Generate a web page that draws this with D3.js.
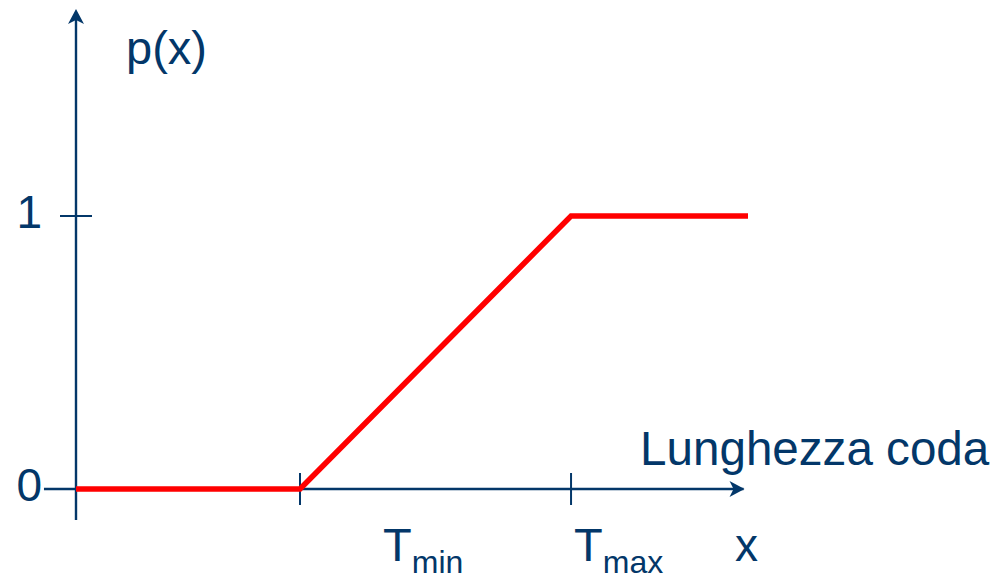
<!DOCTYPE html>
<html><head><meta charset="utf-8">
<script src="https://cdn.jsdelivr.net/npm/d3@7"></script>
<style>body{margin:0;background:#fff}svg{display:block}</style>
</head><body>
<script>
// Data
const xPoints = [0, 1, 2.21, 3];      // origin, Tmin, Tmax, end
const yValues = [0, 0, 1, 1];         // p(x)
const yTicks = [0, 1];
const yTickLabels = ["0", "1"];
const xTicks = [1, 2.21];
const xTickMain = ["T", "T"];
const xTickSub = ["min", "max"];

// layout
const xLabelShift = [83, 3];
const W = 1004, H = 573;
const navy = "#033769";
const font = "'Liberation Sans', Arial, sans-serif";

const svg = d3.select("body").append("svg").attr("width", W).attr("height", H);
const x = d3.scaleLinear().domain([0, 3]).range([76, 748]);
const y = d3.scaleLinear().domain([0, 1]).range([489, 216]);

// axes lines
svg.append("line").attr("x1", x(0)).attr("x2", x(0)).attr("y1", y(-0.114)).attr("y2", y(1.74))
  .attr("stroke", navy).attr("stroke-width", 2.4);
svg.append("line").attr("x1", x(-0.143)).attr("x2", x(2.98)).attr("y1", y(0)).attr("y2", y(0))
  .attr("stroke", navy).attr("stroke-width", 2.4);

// arrowheads
function arrow(tx, ty, angle) {
  svg.append("path")
    .attr("d", "M0,0 L-15,-8 L-11,0 L-15,8 Z")
    .attr("transform", `translate(${tx},${ty}) rotate(${angle})`)
    .attr("fill", navy);
}
arrow(x(2.98) + 1, y(0), 0);
arrow(x(0), y(1.758), -90);

// y ticks (cross the axis)
svg.selectAll(".ytick").data(yTicks.filter(d => d > 0)).enter().append("line")
  .attr("x1", x(0) - 16).attr("x2", x(0) + 16)
  .attr("y1", d => y(d)).attr("y2", d => y(d))
  .attr("stroke", navy).attr("stroke-width", 2);
svg.selectAll(".ylab").data(yTicks).enter().append("text")
  .attr("x", 42).attr("y", d => y(d) + 12)
  .attr("text-anchor", "end").attr("font-family", font).attr("font-size", 46)
  .attr("fill", navy).text((d, i) => yTickLabels[i]);

// x ticks
svg.selectAll(".xtick").data(xTicks).enter().append("line")
  .attr("x1", d => x(d)).attr("x2", d => x(d))
  .attr("y1", y(0) - 16).attr("y2", y(0) + 16)
  .attr("stroke", navy).attr("stroke-width", 2);
const xl = svg.selectAll(".xlab").data(xTicks).enter().append("text")
  .attr("x", (d, i) => x(d) + xLabelShift[i]).attr("y", 561)
  .attr("font-family", font).attr("font-size", 47).attr("fill", navy);
xl.append("tspan").text((d, i) => xTickMain[i]);
xl.append("tspan").attr("font-size", 32).attr("dy", 12).text((d, i) => xTickSub[i]);

// axis labels
svg.append("text").attr("x", 126).attr("y", 64).attr("font-family", font).attr("font-size", 47)
  .attr("fill", navy).text("p(x)");
svg.append("text").attr("x", 640).attr("y", 465).attr("font-family", font).attr("font-size", 47.6)
  .attr("fill", navy).text("Lunghezza coda");
svg.append("text").attr("x", 735).attr("y", 561).attr("font-family", font).attr("font-size", 46)
  .attr("fill", navy).text("x");

// red curve
const line = d3.line().x((d, i) => x(xPoints[i])).y(d => y(d));
svg.append("path").datum(yValues).attr("d", line)
  .attr("fill", "none").attr("stroke", "#ff0000").attr("stroke-width", 5.5)
  .attr("stroke-linejoin", "miter");
</script>
</body></html>
